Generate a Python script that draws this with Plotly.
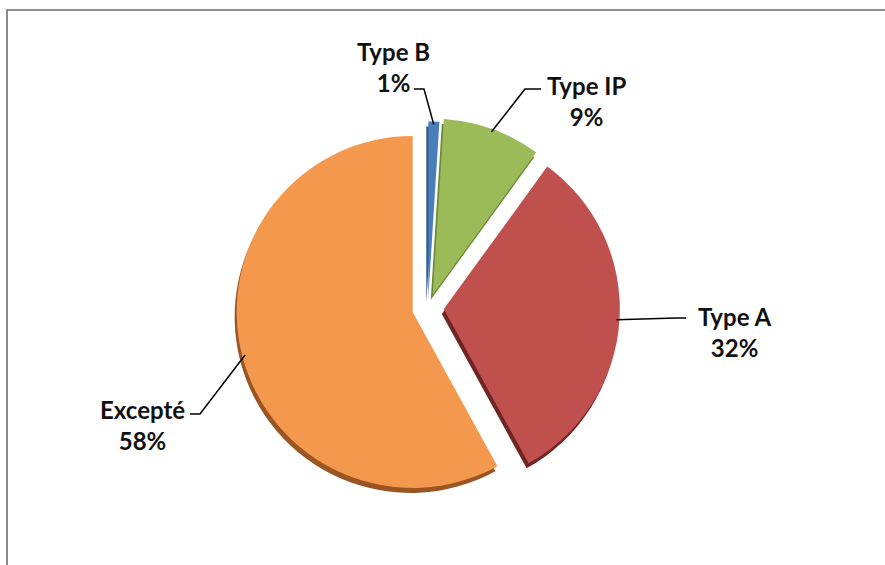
import math
import plotly.graph_objects as go

# Share of items by type
labels = ["Type B", "Type IP", "Type A", "Excepté"]
values = [1, 9, 32, 58]
pulls = [0.06, 0.08, 0.09, 0.09]
colors = ["#4A7EBB", "#9BBB59", "#C0504D", "#F4984E"]
rim_colors = ["#2E5784", "#6A8A36", "#6E2523", "#9A5522"]

W, H = 885, 565
CX, CY = 428, 308        # pie centre, px
R = 176                  # pie radius, px
MAXPULL = max(pulls)
BOX = R * (2 + 2 * MAXPULL)
DEPTH = 5                # thickness of the rim below the pie, px


def dom(cx, cy):
    return dict(x=[(cx - BOX / 2) / W, (cx + BOX / 2) / W],
                y=[1 - (cy + BOX / 2) / H, 1 - (cy - BOX / 2) / H])


def px(x, y):
    return x / W, 1 - y / H


fig = go.Figure()
# darker copy offset downwards gives the slices some depth
fig.add_trace(go.Pie(labels=labels, values=values, pull=pulls, sort=False,
                     direction="clockwise", rotation=0, textinfo="none",
                     marker=dict(colors=rim_colors, line=dict(width=0)),
                     domain=dom(CX - 2, CY + DEPTH), hoverinfo="skip", showlegend=False))
fig.add_trace(go.Pie(labels=labels, values=values, pull=pulls, sort=False,
                     direction="clockwise", rotation=0, textinfo="none",
                     marker=dict(colors=colors, line=dict(width=0)),
                     domain=dom(CX, CY), showlegend=False))

# label text centres (px) and elbow points of the leader lines
label_pos = [(393, 67), (586, 101), (735, 332), (142, 425)]
elbows = [[(414, 89), (424, 89)], [(541, 89), (525, 89)],
          [(686, 318), (676, 318)], [(190, 414), (200, 414)]]

total = sum(values)
cum = 0
annotations, shapes = [], []
for lab, v, p, (lx, ly), elb in zip(labels, values, pulls, label_pos, elbows):
    mid = (cum + v / 2) / total * 2 * math.pi
    cum += v
    rr = R * (1 + p) - 3
    ex, ey = CX + rr * math.sin(mid), CY - rr * math.cos(mid)
    pts = elb + [(ex, ey)]
    path = "M " + " L ".join(f"{px(x, y)[0]},{px(x, y)[1]}" for x, y in pts)
    shapes.append(dict(type="path", path=path, xref="paper", yref="paper",
                       line=dict(color="#000000", width=1.5)))
    ax, ay = px(lx, ly)
    annotations.append(dict(x=ax, y=ay, xref="paper", yref="paper", showarrow=False,
                            xanchor="center", yanchor="middle",
                            text=f"<b>{lab}</b><br><b>{v}%</b>", align="center",
                            font=dict(family="Lato, sans-serif", size=24, color="#111111")))

# chart frame
shapes.append(dict(type="rect", xref="paper", yref="paper",
                   x0=7 / W, x1=1.02, y0=-0.02, y1=1 - 10 / H,
                   line=dict(color="#8A8A8A", width=2)))

fig.update_layout(width=W, height=H, margin=dict(l=0, r=0, t=0, b=0),
                  paper_bgcolor="white", plot_bgcolor="white",
                  annotations=annotations, shapes=shapes)

fig.write_html("out.html")
